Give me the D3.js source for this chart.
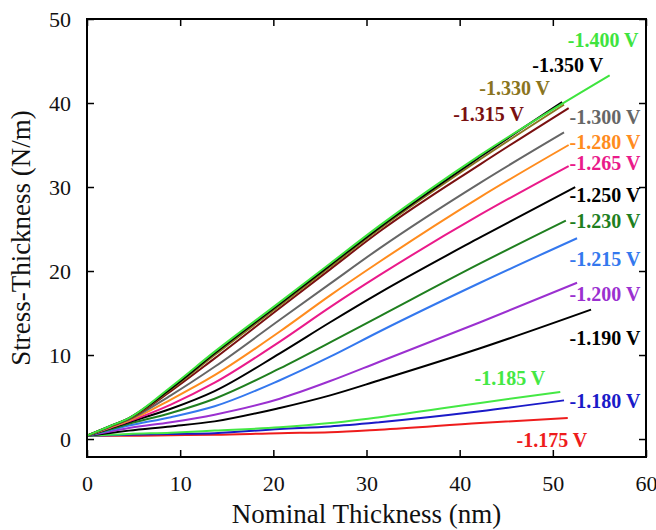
<!DOCTYPE html>
<html>
<head>
<meta charset="utf-8">
<title>Stress-Thickness</title>
<script src="https://cdn.jsdelivr.net/npm/d3@7"></script>
<style>
  body { margin: 0; background: #fff; }
</style>
</head>
<body>
<svg id="svg"></svg>
<script>
var WIDTH = 656;
var HEIGHT = 530;

// data
var voltages = ["-1.175 V", "-1.180 V", "-1.185 V", "-1.190 V", "-1.200 V", "-1.215 V", "-1.230 V",
                "-1.250 V", "-1.265 V", "-1.280 V", "-1.300 V", "-1.315 V", "-1.330 V", "-1.350 V", "-1.400 V"];
var colors = ["#ee1c1c", "#1a1ac8", "#44e844", "#000000", "#9b30d0", "#3478ee", "#1f7f1f",
              "#000000", "#ea1a8a", "#ff8c1e", "#666666", "#7a1010", "#8a7420", "#000000", "#3ee43e"];
var xs = [0, 2.5, 4.5, 9, 13.7, 20.7, 26.1, 31.4, 42.2];
var series = [
  [0.4, 0.4, 0.4, 0.45, 0.5, 0.7, 0.8, 1.1, 1.9],
  [0.4, 0.46, 0.5, 0.6, 0.7, 1.2, 1.5, 2.0, 3.3],
  [0.4, 0.5, 0.6, 0.75, 1.0, 1.4, 1.9, 2.6, 4.3],
  [0.4, 0.73, 1.0, 1.5, 2.1, 3.7, 5.2, 7.0, 10.8],
  [0.4, 0.9, 1.3, 2.0, 2.9, 4.8, 6.9, 9.2, 13.9],
  [0.4, 1.07, 1.6, 2.6, 3.9, 7.0, 9.8, 12.8, 18.6],
  [0.4, 1.17, 1.8, 3.1, 4.8, 8.4, 11.5, 14.6, 20.9],
  [0.4, 1.28, 2.0, 3.6, 5.7, 10.2, 13.9, 17.4, 24.0],
  [0.4, 1.34, 2.1, 4.1, 6.7, 11.6, 15.7, 19.5, 26.7],
  [0.4, 1.4, 2.2, 4.7, 7.6, 12.8, 17.1, 21.1, 28.8],
  [0.4, 1.46, 2.3, 5.2, 8.6, 14.2, 18.5, 22.7, 30.5],
  [0.4, 1.51, 2.4, 5.7, 9.6, 15.6, 20.2, 24.7, 32.7],
  [0.4, 1.53, 2.45, 5.9, 10.0, 15.9, 20.5, 25.0, 33.3],
  [0.4, 1.55, 2.5, 6.0, 10.2, 16.1, 20.7, 25.2, 33.6],
  [0.4, 1.55, 2.5, 6.2, 10.4, 16.3, 20.9, 25.4, 33.8]
];
// last point of each curve
var endX = [51.6, 51.2, 50.8, 54.1, 52.6, 52.6, 51.4, 52.4, 51.7, 51.7, 51.2, 51.7, 51.2, 51.0, 56.1];
var endY = [2.5, 4.6, 5.6, 15.4, 18.6, 23.9, 26.0, 30.0, 32.5, 35.0, 36.5, 39.4, 39.8, 40.1, 43.3];
// label anchors in data units
var labelX = [46.1, 51.8, 41.6, 51.8, 51.8, 51.8, 51.8, 51.8, 51.8, 51.8, 51.8, 39.3, 42.1, 47.8, 51.6];
var labelY = [-1.0, 3.7, 6.4, 11.2, 16.4, 20.6, 25.1, 28.2, 32.0, 34.5, 37.5, 37.9, 40.95, 43.7, 46.7];

var xTicks = [0, 10, 20, 30, 40, 50, 60];
var yTicks = [0, 10, 20, 30, 40, 50];

var svg = d3.select("#svg").attr("width", WIDTH).attr("height", HEIGHT);

var x = d3.scaleLinear().domain([0, 60]).range([87, 646]);
var y = d3.scaleLinear().domain([-2.14, 50]).range([457, 19]);

var FONT = "'Liberation Serif', 'Times New Roman', Times, 'DejaVu Serif', serif";

var line = d3.line()
  .x(function(d){ return x(d[0]); })
  .y(function(d){ return y(d[1]); })
  .curve(d3.curveMonotoneX);

var curves = series.map(function(vals, i){
  var pts = xs.map(function(xv, j){ return [xv, vals[j]]; });
  pts.push([endX[i], endY[i]]);
  return pts;
});

svg.append("g").selectAll("path")
  .data(curves)
  .enter()
  .append("path")
  .attr("d", line)
  .attr("fill", "none")
  .attr("stroke", function(d, i){ return colors[i]; })
  .attr("stroke-width", 2);

// frame with inward ticks on all sides
function styleAxis(g){
  g.attr("font-family", FONT).attr("font-size", 22);
  g.selectAll(".domain").remove();
  g.selectAll(".tick line").attr("stroke", "#000").attr("stroke-width", 1.5);
  g.selectAll("text").attr("fill", "#111");
}

svg.append("g")
  .attr("transform", "translate(0," + y.range()[0] + ")")
  .call(d3.axisBottom(x).tickValues(xTicks).tickSize(-7).tickPadding(18).tickFormat(d3.format("d")))
  .call(styleAxis);
svg.append("g")
  .attr("transform", "translate(0," + y.range()[1] + ")")
  .call(d3.axisTop(x).tickValues(xTicks).tickSize(-7).tickFormat(""))
  .call(styleAxis);
svg.append("g")
  .attr("transform", "translate(" + x.range()[0] + ",0)")
  .call(d3.axisLeft(y).tickValues(yTicks).tickSize(-7).tickPadding(16).tickFormat(d3.format("d")))
  .call(styleAxis);
svg.append("g")
  .attr("transform", "translate(" + x.range()[1] + ",0)")
  .call(d3.axisRight(y).tickValues(yTicks).tickSize(-7).tickFormat(""))
  .call(styleAxis);

svg.append("rect")
  .attr("x", x.range()[0]).attr("y", y.range()[1])
  .attr("width", x.range()[1] - x.range()[0])
  .attr("height", y.range()[0] - y.range()[1])
  .attr("fill", "none").attr("stroke", "#000").attr("stroke-width", 2);

// curve labels
svg.append("g")
  .attr("font-family", FONT)
  .attr("font-weight", "bold")
  .attr("font-size", 20)
  .selectAll("text")
  .data(voltages)
  .enter()
  .append("text")
  .attr("x", function(d, i){ return x(labelX[i]); })
  .attr("y", function(d, i){ return y(labelY[i]); })
  .attr("fill", function(d, i){ return colors[i]; })
  .text(function(d){ return d; });

// axis titles
svg.append("text")
  .attr("x", (x.range()[0] + x.range()[1]) / 2)
  .attr("y", 523)
  .attr("text-anchor", "middle")
  .attr("font-family", FONT)
  .attr("font-size", 27)
  .attr("fill", "#111")
  .text("Nominal Thickness (nm)");

svg.append("text")
  .attr("transform", "translate(30," + (y.range()[0] + y.range()[1]) / 2 + ") rotate(-90)")
  .attr("text-anchor", "middle")
  .attr("font-family", FONT)
  .attr("font-size", 27)
  .attr("fill", "#111")
  .text("Stress-Thickness (N/m)");
</script>
</body>
</html>
